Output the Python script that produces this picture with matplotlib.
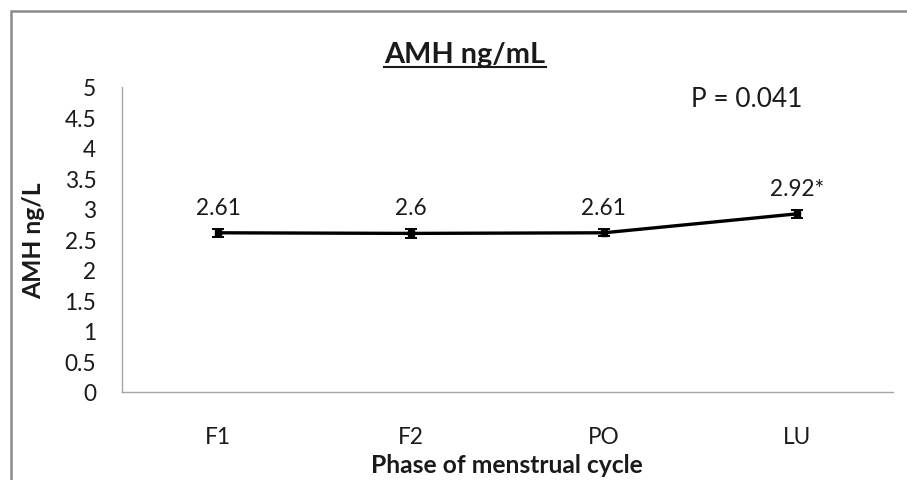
import matplotlib
matplotlib.use("Agg")
import matplotlib.pyplot as plt
from matplotlib.patches import Rectangle
from matplotlib.lines import Line2D

# Mean AMH per phase of the menstrual cycle
phases = ["F1", "F2", "PO", "LU"]
amh_mean = [2.61, 2.60, 2.61, 2.92]
amh_err = [0.07, 0.07, 0.06, 0.07]
value_labels = ["2.61", "2.6", "2.61", "2.92*"]
y_ticks = [0, 0.5, 1, 1.5, 2, 2.5, 3, 3.5, 4, 4.5, 5]
y_tick_labels = ["0", "0.5", "1", "1.5", "2", "2.5", "3", "3.5", "4", "4.5", "5"]

plt.rcParams["font.family"] = ["Lato", "DejaVu Sans"]
text_color = "#1a1a1a"
axis_gray = "#a6a6a6"

W, H = 907, 481
fig = plt.figure(figsize=(W / 100, H / 100), dpi=100)
fig.patch.set_facecolor("white")


def fx(px):
    return px / W


def fy(py):
    return 1 - py / H


# chart-area frame
fig.patches.append(Rectangle((fx(11), -0.2), 1.2, 0.2 + fy(12),
                             transform=fig.transFigure, fill=False,
                             edgecolor="#8c8c8c", linewidth=1.8))

ax = fig.add_axes([fx(122), fy(393), (893 - 122) / W, (393 - 88) / H])
x = list(range(len(phases)))
ax.errorbar(x, amh_mean, yerr=amh_err, color="black", linewidth=2.4,
            marker="s", markersize=4.5, capsize=4.5, capthick=1.4,
            elinewidth=1.4, zorder=3)

for xi, yi, lab in zip(x, amh_mean, value_labels):
    ax.annotate(lab, (xi, yi), xytext=(0, 13.8), textcoords="offset points",
                ha="center", va="baseline", fontsize=16.3, color=text_color)

ax.set_xlim(-0.5, len(phases) - 0.5)
ax.set_ylim(0, 5)
ax.set_xticks(x)
ax.set_xticklabels(phases)
ax.set_yticks(y_ticks)
ax.set_yticklabels(y_tick_labels)
ax.tick_params(axis="x", length=0, pad=24.5, labelsize=16.3, colors=text_color)
ax.tick_params(axis="y", length=0, pad=18.5, labelsize=16.3, colors=text_color)

for side in ["top", "right"]:
    ax.spines[side].set_visible(False)
for side in ["left", "bottom"]:
    ax.spines[side].set_color(axis_gray)
    ax.spines[side].set_linewidth(1.0)

fig.text(fx(34), fy(241), "AMH ng/L", rotation=90, ha="center",
         va="center", fontsize=17.7, fontweight="bold", color=text_color)
fig.text(fx(507), fy(473), "Phase of menstrual cycle", ha="center",
         va="baseline", fontsize=17.7, fontweight="bold", color=text_color)
fig.text(fx(747), fy(107), "P = 0.041", ha="center", va="baseline",
         fontsize=18.9, color=text_color)

title = fig.text(fx(465), fy(63), "AMH ng/mL", ha="center",
                 va="baseline", fontsize=20.8, fontweight="bold",
                 color=text_color)

# underline the title
fig.canvas.draw()
bb = title.get_window_extent(renderer=fig.canvas.get_renderer())
fig.lines.append(Line2D([bb.x0 / W, bb.x1 / W], [fy(68), fy(68)],
                        transform=fig.transFigure, color=text_color,
                        linewidth=1.5))

fig.savefig("out.png", dpi=100, facecolor="white")
